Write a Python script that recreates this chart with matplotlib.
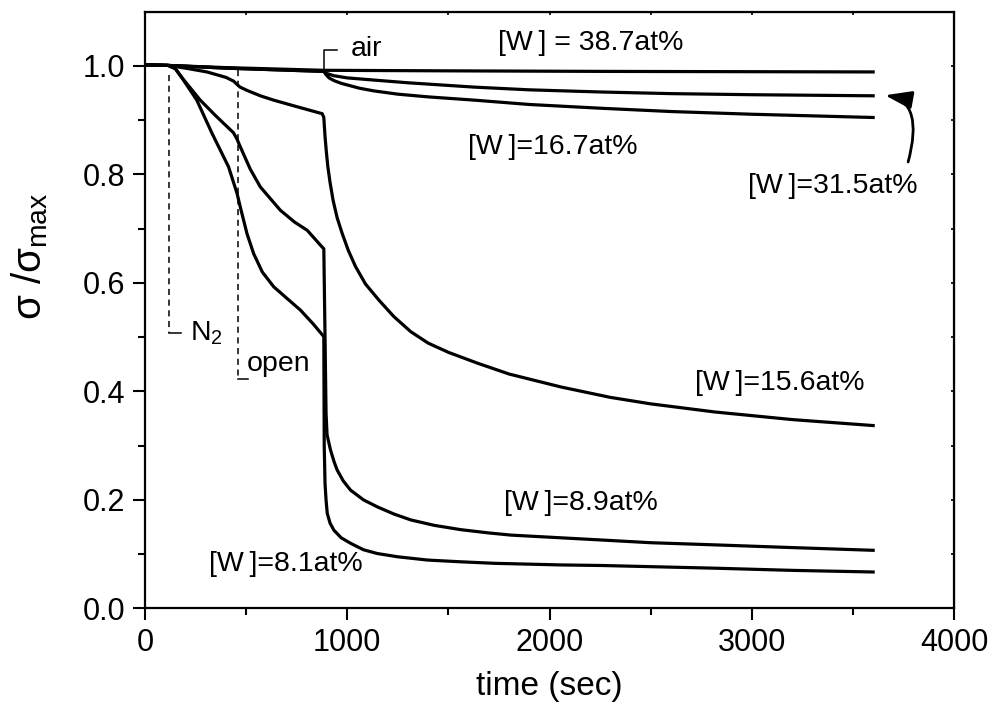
import numpy as np
import matplotlib
matplotlib.use("Agg")
import matplotlib.pyplot as plt
from matplotlib.patches import FancyArrowPatch

plt.rcParams['font.family'] = ['Liberation Sans', 'DejaVu Sans']
plt.rcParams['mathtext.fontset'] = 'custom'
plt.rcParams['mathtext.rm'] = 'Liberation Sans'
plt.rcParams['mathtext.it'] = 'Liberation Sans'

# 各試料の時間 (sec) と σ/σmax
t_387 = [0, 114, 400, 884, 1500, 2256, 3600]
s_387 = [1.002, 1.001, 0.997, 0.992, 0.991, 0.990, 0.989]

t_315 = [0, 114, 400, 884, 900, 934, 1000, 1132, 1300, 1628, 1900, 2256, 2600, 3000, 3600]
s_315 = [1.002, 1.001, 0.996, 0.990, 0.986, 0.982, 0.978, 0.974, 0.969, 0.961, 0.956, 0.952, 0.949, 0.947, 0.945]

t_167 = [0, 114, 400, 884, 895, 910, 934, 970, 1000, 1060, 1132, 1250, 1400, 1628, 1900, 2256, 2600, 3000, 3600]
s_167 = [1.002, 1.001, 0.996, 0.990, 0.984, 0.978, 0.973, 0.968, 0.965, 0.959, 0.954, 0.948, 0.943, 0.937, 0.929, 0.922, 0.916, 0.911, 0.905]

t_156 = [0, 114, 200, 306, 400, 438, 455, 470, 504, 570, 636, 750, 876, 884, 890, 897, 904, 915, 930,
         950, 975, 1005, 1041, 1090, 1157, 1230, 1314, 1400, 1500, 1644, 1800, 2058, 2300, 2500, 2818, 3200, 3600]
s_156 = [1.002, 1.001, 0.996, 0.989, 0.979, 0.972, 0.966, 0.961, 0.955, 0.945, 0.937, 0.925, 0.912, 0.905, 0.870, 0.840, 0.814, 0.785, 0.752,
         0.720, 0.691, 0.660, 0.630, 0.598, 0.568, 0.538, 0.510, 0.489, 0.472, 0.452, 0.432, 0.408, 0.389, 0.377, 0.362, 0.348, 0.337]

t_89 = [0, 114, 150, 190, 273, 350, 437, 455, 471, 520, 570, 669, 740, 802, 876, 884, 890,
        895, 900, 917, 935, 950, 980, 1016, 1080, 1149, 1230, 1314, 1430, 1562, 1700, 1810, 2058,
        2256, 2500, 2818, 3200, 3600]
s_89 = [1.002, 1.001, 0.995, 0.975, 0.937, 0.908, 0.877, 0.865, 0.851, 0.810, 0.777, 0.734, 0.712, 0.697, 0.666, 0.663, 0.50,
        0.36, 0.32, 0.292, 0.270, 0.255, 0.235, 0.218, 0.200, 0.187, 0.174, 0.163, 0.153, 0.145, 0.139, 0.135, 0.130,
        0.126, 0.121, 0.117, 0.112, 0.107]

t_81 = [0, 114, 150, 190, 256, 331, 413, 437, 455, 471, 504, 537, 580, 636, 700, 768, 830, 884,
        886, 890, 895, 901, 915, 934, 970, 1016, 1080, 1149, 1250, 1397, 1550, 1727, 2058, 2256, 2818, 3200, 3600]
s_81 = [1.002, 1.001, 0.995, 0.974, 0.937, 0.876, 0.814, 0.786, 0.765, 0.740, 0.691, 0.654, 0.620, 0.593, 0.572, 0.550, 0.525, 0.501,
        0.30, 0.23, 0.20, 0.175, 0.157, 0.144, 0.130, 0.120, 0.108, 0.101, 0.095, 0.089, 0.086, 0.083, 0.080, 0.079, 0.074, 0.070, 0.067]

fig = plt.figure(figsize=(9.94, 7.11), dpi=100)
ax = fig.add_axes([0.1459, 0.1444, 0.8139, 0.8391])

for t, s in [(t_387, s_387), (t_315, s_315), (t_167, s_167),
             (t_156, s_156), (t_89, s_89), (t_81, s_81)]:
    ax.plot(t, s, color="black", lw=2.3, solid_joinstyle="round")

# ガス切替のマーカー (N2, open, air)
ax.plot([119, 119], [0.983, 0.508], color="black", lw=1.1, ls=(0, (4, 3)))
ax.plot([119, 178], [0.508, 0.508], color="black", lw=1.1)
ax.plot([458, 458], [0.993, 0.4225], color="black", lw=1.1, ls=(0, (4, 3)))
ax.plot([458, 508], [0.4225, 0.4225], color="black", lw=1.1)
ax.plot([887, 887, 950], [0.993, 1.030, 1.030], color="black", lw=1.1)

fs = 20.5
ts = "\u2009"
ax.text(1745, 1.029, f"[W{ts}] = 38.7at%", fontsize=fs, va="baseline")
ax.text(1595, 0.8386, f"[W{ts}]=16.7at%", fontsize=fs, va="baseline")
ax.text(2983, 0.765, f"[W{ts}]=31.5at%", fontsize=fs, va="baseline")
ax.text(2718, 0.4023, f"[W{ts}]=15.6at%", fontsize=fs, va="baseline")
ax.text(1777, 0.181, f"[W{ts}]=8.9at%", fontsize=fs, va="baseline")
ax.text(314, 0.0693, f"[W{ts}]=8.1at%", fontsize=fs, va="baseline")
ax.text(1016, 1.018, "air", fontsize=fs, va="baseline")
ax.text(223, 0.4945, r"N$_2$", fontsize=fs, va="baseline")
ax.text(504, 0.438, "open", fontsize=fs, va="baseline")

arrow = FancyArrowPatch((3773, 0.823), (3659, 0.946),
                        connectionstyle="angle3,angleA=75,angleB=-10",
                        arrowstyle="-|>,head_length=0.9,head_width=0.3",
                        mutation_scale=18, color="black", lw=2.0,
                        shrinkA=0, shrinkB=0)
ax.add_patch(arrow)

ax.set_xlim(0, 4000)
ax.set_ylim(0, 1.1)
ax.set_xticks([0, 1000, 2000, 3000, 4000])
ax.set_xticks(np.arange(500, 4000, 1000), minor=True)
ax.set_yticks([0.0, 0.2, 0.4, 0.6, 0.8, 1.0])
ax.set_yticks(np.arange(0.1, 1.1, 0.2), minor=True)
ax.set_yticklabels(["0.0", "0.2", "0.4", "0.6", "0.8", "1.0"])

ax.tick_params(which="major", direction="out", length=8.5, width=1.5, labelsize=22, pad=6)
ax.tick_params(which="minor", direction="out", length=5, width=1.5)
for sp in ax.spines.values():
    sp.set_linewidth(1.6)

# 上と右の小さな目盛
axt = ax.secondary_xaxis("top")
axt.set_xticks([0, 1000, 2000, 3000, 4000])
axt.set_xticks(np.arange(500, 4000, 1000), minor=True)
axt.tick_params(which="both", direction="in", length=2, width=1.2, labeltop=False)
axr = ax.secondary_yaxis("right")
axr.set_yticks([0.0, 0.2, 0.4, 0.6, 0.8, 1.0])
axr.set_yticks(np.arange(0.1, 1.1, 0.2), minor=True)
axr.tick_params(which="both", direction="in", length=2, width=1.2, labelright=False)

ax.set_xlabel("time (sec)", fontsize=24, labelpad=9)
ax.set_ylabel(r"$\mathregular{σ\ /σ_{max}}$", fontsize=29)
ax.yaxis.set_label_coords(-0.118, 0.59)

fig.savefig("out.png", dpi=100)
